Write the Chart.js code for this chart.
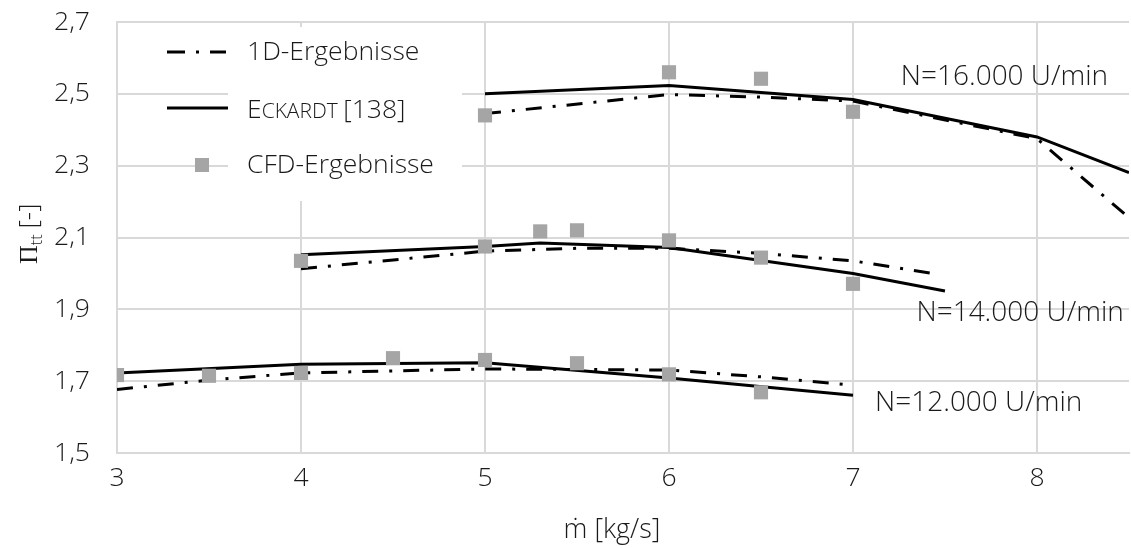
<!DOCTYPE html>
<html>
<head>
<meta charset="utf-8">
<script src="https://cdn.jsdelivr.net/npm/chart.js@4.4.1/dist/chart.umd.min.js"></script>
<style>
html, body { margin: 0; padding: 0; background: #fff; }
</style>
</head>
<body>
<canvas id="myChart" width="1131" height="548"></canvas>
<script>
// tick values
var xTicks = [3, 4, 5, 6, 7, 8];
var yTicks = [1.5, 1.7, 1.9, 2.1, 2.3, 2.5, 2.7];

// N=16.000 U/min
var eck16X = [5, 6, 7, 8, 8.5];
var eck16Y = [2.50, 2.523, 2.484, 2.38, 2.281];
var oneD16X = [5, 6, 6.5, 7, 8, 8.5];
var oneD16Y = [2.445, 2.498, 2.491, 2.48, 2.375, 2.155];
var cfd16X = [5, 6, 6.5, 7];
var cfd16Y = [2.44, 2.56, 2.542, 2.45];

// N=14.000 U/min
var eck14X = [4, 5, 5.3, 6, 7, 7.5];
var eck14Y = [2.052, 2.075, 2.085, 2.072, 2.0, 1.951];
var oneD14X = [4, 5, 5.5, 6, 6.5, 7, 7.43];
var oneD14Y = [2.013, 2.062, 2.07, 2.07, 2.056, 2.035, 2.0];
var cfd14X = [4, 5, 5.3, 5.5, 6, 6.5, 7];
var cfd14Y = [2.035, 2.075, 2.117, 2.12, 2.092, 2.044, 1.971];

// N=12.000 U/min
var eck12X = [3, 4, 5, 6, 7];
var eck12Y = [1.723, 1.747, 1.751, 1.709, 1.661];
var oneD12X = [3, 3.5, 4, 5, 6, 6.5, 7];
var oneD12Y = [1.677, 1.703, 1.723, 1.734, 1.731, 1.712, 1.689];
var cfd12X = [3, 3.5, 4, 4.5, 5, 5.5, 6, 6.5];
var cfd12Y = [1.717, 1.715, 1.723, 1.764, 1.759, 1.75, 1.719, 1.669];

// speed line labels, anchored in data units
var speedLabels = ['N=16.000 U/min', 'N=14.000 U/min', 'N=12.000 U/min'];
var speedLabelX = [7.26, 7.345, 7.12];
var speedLabelY = [2.548, 1.89, 1.639];

var FONT = '"Open Sans", "Noto Sans", sans-serif';
var TEXT = '#1a1a1a';
var GRID = '#d9d9d9';
var DASHDOT = [16, 11, 3, 11];

function pts(xs, ys) {
    return xs.map(function(x, i) { return { x: x, y: ys[i] }; });
}

function lineSet(label, xs, ys, dashed) {
    return {
        label: label,
        data: pts(xs, ys),
        showLine: true,
        borderColor: '#000',
        borderWidth: 3,
        borderDash: dashed ? DASHDOT : [],
        pointRadius: 0,
        tension: 0,
        order: 2
    };
}

function cfdSet(xs, ys) {
    return {
        label: 'CFD-Ergebnisse',
        data: pts(xs, ys),
        showLine: false,
        pointStyle: 'rect',
        pointRadius: 10,
        pointHoverRadius: 10,
        pointBackgroundColor: '#a5a5a5',
        pointBorderWidth: 0,
        order: 0
    };
}

var overlay = {
    id: 'overlay',
    beforeDatasetsDraw: function(chart) {
        var ctx = chart.ctx;
        ctx.save();
        // legend box hides the grid
        ctx.fillStyle = '#fff';
        ctx.fillRect(228, 27, 234, 174);

        // 1D entry
        ctx.strokeStyle = '#000';
        ctx.lineWidth = 3;
        ctx.setLineDash([18, 11, 3, 11]);
        ctx.beginPath();
        ctx.moveTo(167, 52);
        ctx.lineTo(226, 52);
        ctx.stroke();
        ctx.setLineDash([]);
        // Eckardt entry
        ctx.beginPath();
        ctx.moveTo(167, 108);
        ctx.lineTo(228, 108);
        ctx.stroke();
        // CFD entry
        ctx.fillStyle = '#a5a5a5';
        ctx.fillRect(195, 158, 14, 14);

        ctx.fillStyle = TEXT;
        ctx.textBaseline = 'middle';
        ctx.textAlign = 'left';
        ctx.font = '300 26.5px ' + FONT;
        ctx.fillText('1D-Ergebnisse', 247, 52);
        ctx.fillText('CFD-Ergebnisse', 247, 165);
        // small caps for the author name
        ctx.textBaseline = 'alphabetic';
        ctx.fillText('E', 247, 118);
        var w = ctx.measureText('E').width;
        ctx.font = '300 21px ' + FONT;
        ctx.fillText('CKARDT', 247 + w, 118);
        w += ctx.measureText('CKARDT ').width;
        ctx.font = '300 26.5px ' + FONT;
        ctx.fillText('[138]', 247 + w, 118);
        ctx.restore();
    },
    afterDatasetsDraw: function(chart) {
        var ctx = chart.ctx;
        var xs = chart.scales.x, ys = chart.scales.y;
        ctx.save();
        ctx.fillStyle = TEXT;
        ctx.font = '300 28px ' + FONT;
        ctx.textBaseline = 'middle';
        ctx.textAlign = 'left';
        speedLabels.forEach(function(t, i) {
            ctx.fillText(t, xs.getPixelForValue(speedLabelX[i]), ys.getPixelForValue(speedLabelY[i]));
        });

        // x title
        ctx.font = '300 27px ' + FONT;
        ctx.textAlign = 'center';
        ctx.fillText('\u1E41 [kg/s]', 612, 530);

        // y title with subscript
        ctx.translate(37, 264);
        ctx.rotate(-Math.PI / 2);
        ctx.textAlign = 'left';
        ctx.textBaseline = 'alphabetic';
        ctx.font = '26px "Liberation Serif", serif';
        ctx.fillText('\u03A0', 0, 0);
        var w = ctx.measureText('\u03A0').width;
        ctx.font = '300 16px ' + FONT;
        ctx.fillText('tt', w, 5);
        w += ctx.measureText('tt').width + 6;
        ctx.font = '300 26px ' + FONT;
        ctx.fillText('[-]', w, 0);
        ctx.restore();
    }
};

var ctx = document.getElementById('myChart').getContext('2d');
var myChart = new Chart(ctx, {
    type: 'scatter',
    data: {
        datasets: [
            lineSet('ECKARDT [138]', eck16X, eck16Y, false),
            lineSet('ECKARDT [138]', eck14X, eck14Y, false),
            lineSet('ECKARDT [138]', eck12X, eck12Y, false),
            lineSet('1D-Ergebnisse', oneD16X, oneD16Y, true),
            lineSet('1D-Ergebnisse', oneD14X, oneD14Y, true),
            lineSet('1D-Ergebnisse', oneD12X, oneD12Y, true),
            cfdSet(cfd16X, cfd16Y),
            cfdSet(cfd14X, cfd14Y),
            cfdSet(cfd12X, cfd12Y)
        ]
    },
    options: {
        responsive: false,
        animation: false,
        events: [],
        layout: {
            autoPadding: false,
            padding: { left: 0, right: 2, top: 22, bottom: 0 }
        },
        plugins: {
            legend: { display: false },
            tooltip: { enabled: false }
        },
        scales: {
            x: {
                type: 'linear',
                min: 3,
                max: 8.5,
                afterBuildTicks: function(scale) {
                    scale.ticks = xTicks.map(function(v) { return { value: v }; });
                },
                afterFit: function(scale) {
                    scale.height = 95;
                    scale.paddingLeft = 0;
                    scale.paddingRight = 0;
                },
                grid: { color: GRID, lineWidth: 2, drawTicks: false },
                border: { color: GRID, width: 2 },
                ticks: {
                    color: TEXT,
                    padding: 10,
                    maxRotation: 0,
                    font: { family: FONT, size: 26.5, weight: '300' }
                }
            },
            y: {
                type: 'linear',
                min: 1.5,
                max: 2.7,
                afterBuildTicks: function(scale) {
                    scale.ticks = yTicks.map(function(v) { return { value: v }; });
                },
                afterFit: function(scale) {
                    scale.width = 117;
                    scale.paddingTop = 0;
                    scale.paddingBottom = 0;
                },
                grid: { color: GRID, lineWidth: 2, drawTicks: false },
                border: { color: GRID, width: 2 },
                ticks: {
                    color: TEXT,
                    padding: 27,
                    font: { family: FONT, size: 26.5, weight: '300' },
                    callback: function(v) { return v.toFixed(1).replace('.', ','); }
                }
            }
        }
    },
    plugins: [overlay]
});
</script>
</body>
</html>
